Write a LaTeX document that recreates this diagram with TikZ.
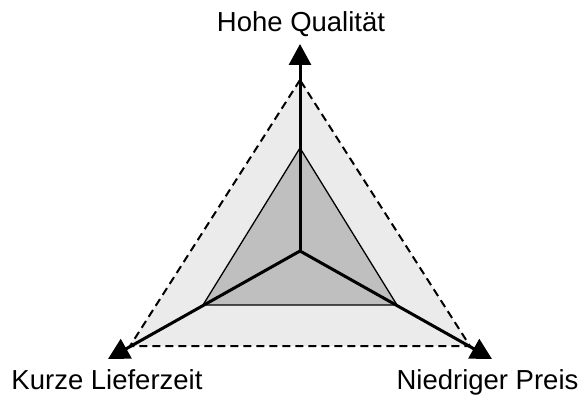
\documentclass[tikz,border=0pt]{standalone}
\usepackage{fontspec}
\setmainfont{Liberation Sans}
\usetikzlibrary{arrows.meta}
\tikzset{
  axisline/.style={line width=3pt, -{Triangle[length=21pt,width=22pt]}},
  outertri/.style={fill=black!8, draw=black, line width=2pt, dash pattern=on 8pt off 5pt},
  innertri/.style={fill=black!25, draw=black, line width=1.3pt},
  lbl/.style={font=\fontsize{27.5}{32}\selectfont, inner sep=0pt}
}
\begin{document}
\begin{tikzpicture}[x=1pt,y=-1pt]
\useasboundingbox (0,0) rectangle (582,396);
\coordinate (c) at (300,251);
\coordinate (tq) at (300,44);
\coordinate (tl) at (108,359);
\coordinate (tp) at (492,359);
\coordinate (o1) at (300,80);
\coordinate (o2) at (130,346);
\coordinate (o3) at (470,346);
\coordinate (i1) at (300,148);
\coordinate (i2) at (203,305);
\coordinate (i3) at (397,305);
\draw[outertri] (o1) -- (o2) -- (o3) -- cycle;
\draw[innertri] (i1) -- (i2) -- (i3) -- cycle;
\draw[axisline] (c) -- (tq);
\draw[axisline] (c) -- (tl);
\draw[axisline] (c) -- (tp);
\node[lbl, anchor=base] (q) at (301,32) {Hohe Qualität};
\node[lbl, anchor=base] (k) at (107,389) {Kurze Lieferzeit};
\node[lbl, anchor=base] (p) at (487.5,389) {Niedriger Preis};
\end{tikzpicture}
\end{document}
